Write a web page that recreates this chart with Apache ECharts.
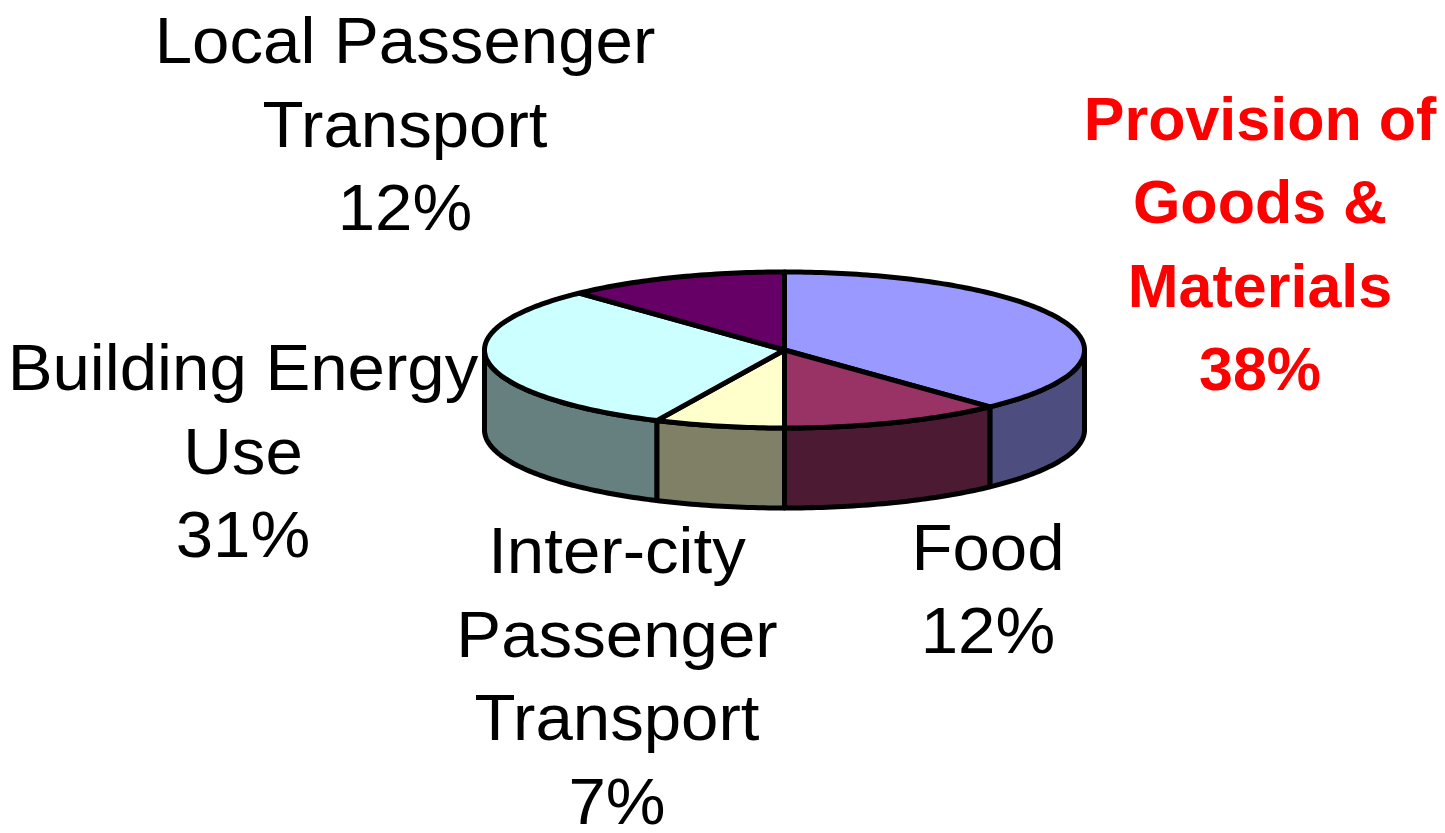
<!DOCTYPE html>
<html>
<head>
<meta charset="utf-8">
<script src="https://cdn.jsdelivr.net/npm/echarts@6/dist/echarts.min.js"></script>
<style>
  html, body { margin: 0; padding: 0; background: #fff; }
  #main { width: 1445px; height: 833px; }
</style>
</head>
<body>
<div id="main"></div>
<script>
// slices, clockwise from 12 o'clock
var categories = [
  'Provision of\nGoods &\nMaterials',
  'Food',
  'Inter-city\nPassenger\nTransport',
  'Building Energy\nUse',
  'Local Passenger\nTransport'
]
var values = [38, 12, 7, 31, 12]

var topColors = ['#9999FF', '#993366', '#FFFFCC', '#CCFFFF', '#660066']
var sideColors = ['#4D4D80', '#4D1A33', '#808066', '#668080', '#330033']
// label anchor (centre of text block)
var labelPos = [[1260, 248], [988, 594], [617, 681], [243, 456], [405, 129]]

var chartDom = document.getElementById('main')
var myChart = echarts.init(chartDom)

var cx = 784.5, cy = 350, rx = 300, ry = 78, depth = 80
var total = values.reduce(function (a, b) { return a + b }, 0)

function pt (deg, dy) {
  var r = deg * Math.PI / 180
  return [cx + rx * Math.sin(r), cy - ry * Math.cos(r) + (dy || 0)]
}

function renderSlice (params, api) {
  var i = params.dataIndex
  var before = 0
  for (var k = 0; k < i; k++) before += values[k]
  var a1 = before / total * 360
  var a2 = (before + api.value(0)) / total * 360
  var children = []
  var step = 1

  // top face
  var top = [[cx, cy]]
  for (var t = a1; t < a2; t += step) top.push(pt(t))
  top.push(pt(a2))
  children.push({
    type: 'polygon',
    z2: 2,
    shape: { points: top },
    style: { fill: topColors[i], stroke: '#000', lineWidth: 5, lineJoin: 'round' }
  })

  // front side wall
  var s1 = Math.max(a1, 90), s2 = Math.min(a2, 270)
  if (s2 > s1) {
    var upper = [], lower = []
    for (var u = s1; u < s2; u += step) {
      upper.push(pt(u))
      lower.push(pt(u, depth))
    }
    upper.push(pt(s2))
    lower.push(pt(s2, depth))
    children.push({
      type: 'polygon',
      z2: 1,
      shape: { points: upper.concat(lower.reverse()) },
      style: { fill: sideColors[i], stroke: '#000', lineWidth: 5, lineJoin: 'round' }
    })
  }

  var isMain = i === 0
  children.push({
    type: 'text',
    z2: 3,
    x: labelPos[i][0],
    y: labelPos[i][1],
    scaleX: isMain ? 1 : 1.05,
    style: {
      text: categories[i] + '\n' + api.value(0) + '%',
      fill: isMain ? '#FF0000' : '#000',
      font: (isMain ? 'bold 61px' : '64px') + ' "Liberation Sans", Arial, sans-serif',
      lineHeight: 83.5,
      align: 'center',
      verticalAlign: 'middle'
    }
  })

  return { type: 'group', children: children }
}

var option = {
  backgroundColor: '#fff',
  animation: false,
  series: [
    {
      type: 'custom',
      coordinateSystem: 'none',
      renderItem: renderSlice,
      data: values.map(function (v) { return [v] })
    }
  ]
}

option && myChart.setOption(option)
</script>
</body>
</html>
